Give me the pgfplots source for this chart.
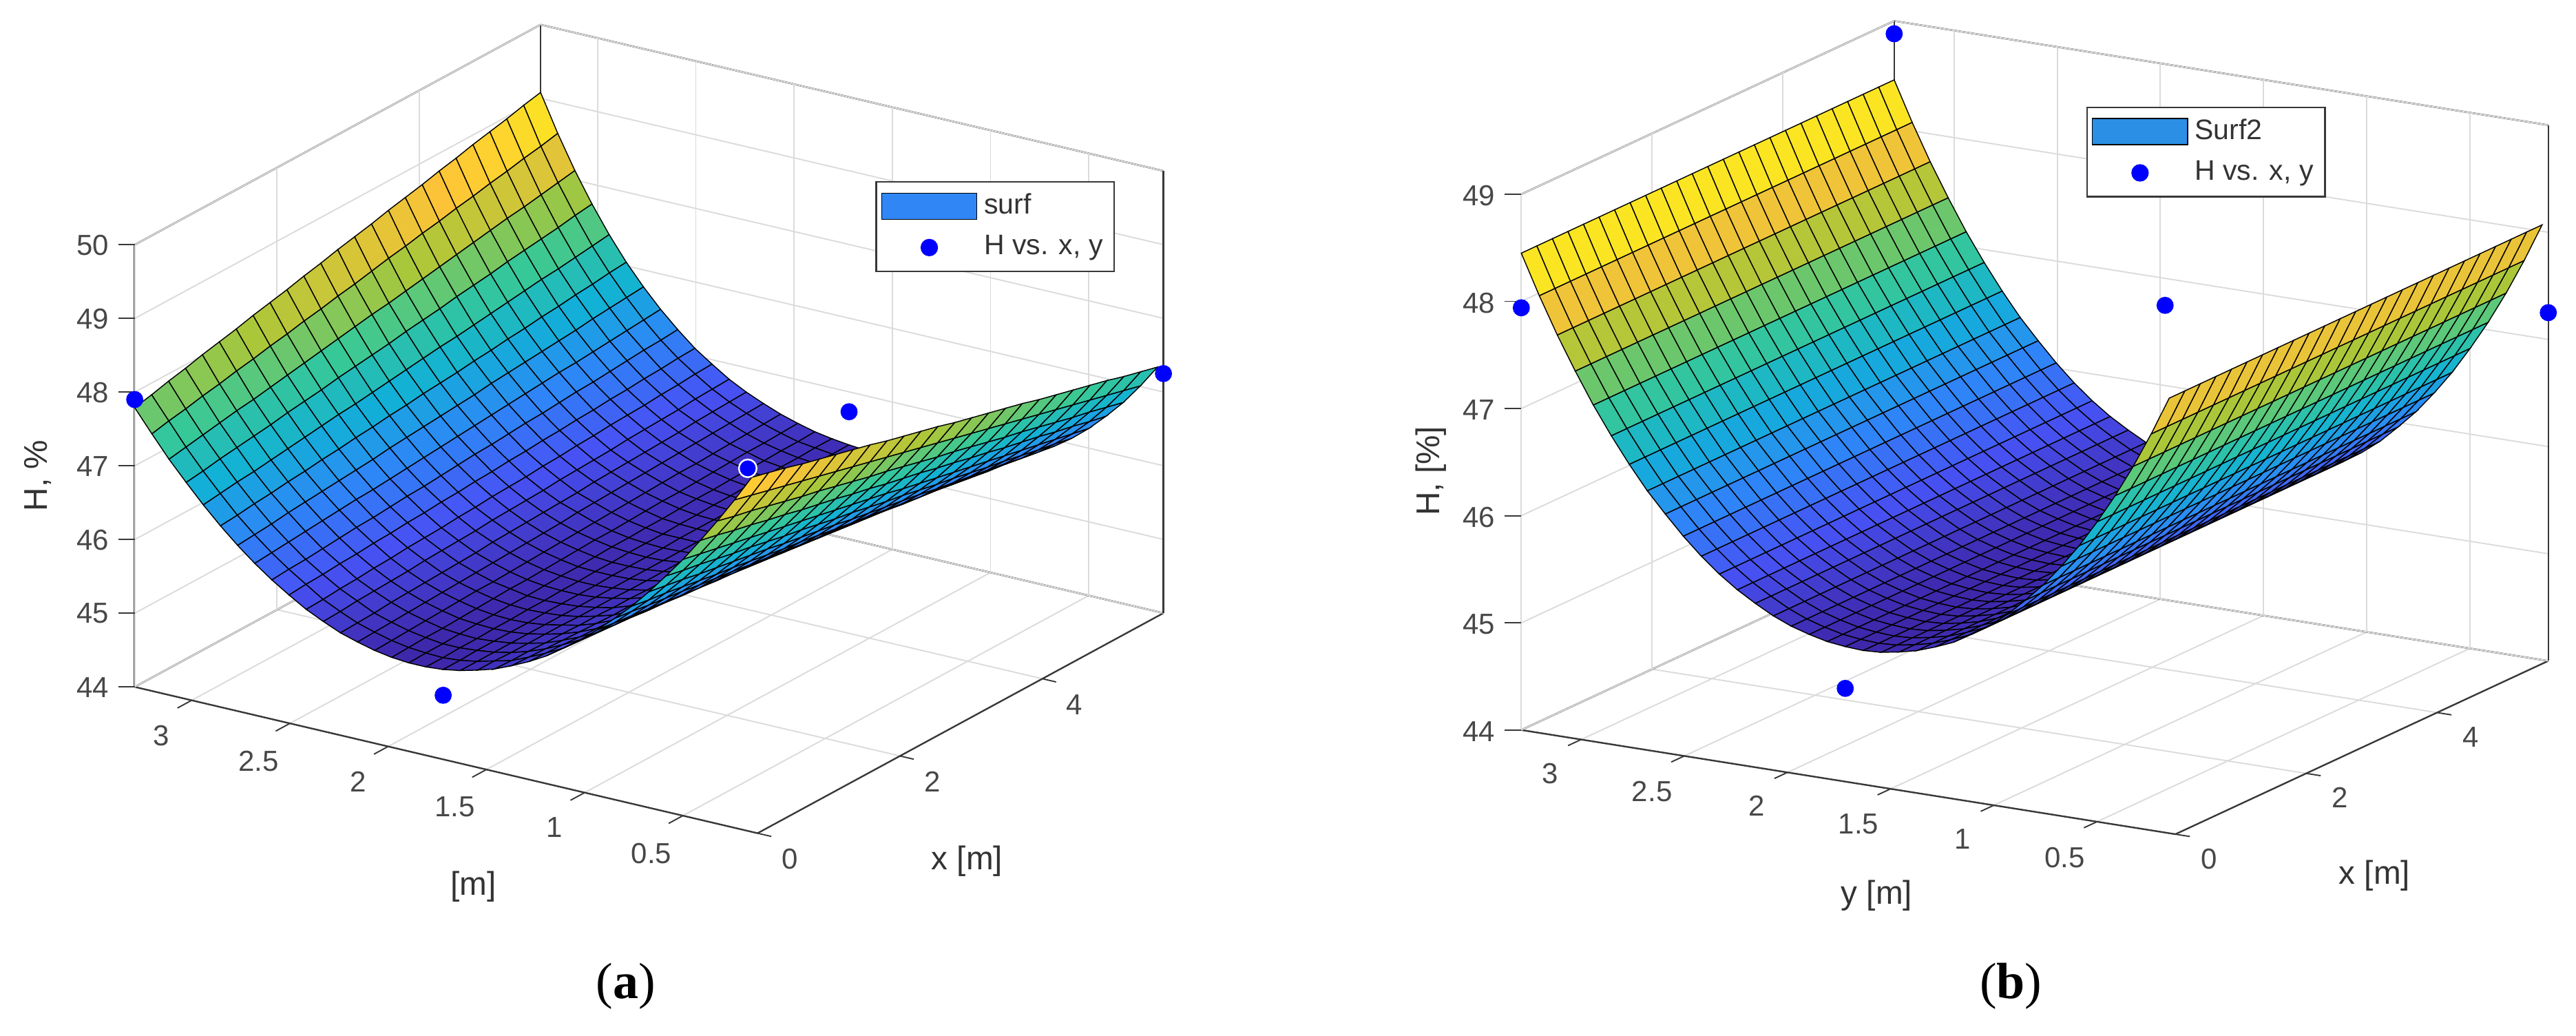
\documentclass[border=0pt]{standalone}
\usepackage{fontspec}
\setmainfont{Liberation Sans}
\newfontfamily\capfont{Liberation Serif}
\usepackage{pgfplots}
\pgfplotsset{compat=1.18}
\definecolor{axgray}{gray}{0.22}
\definecolor{swatcha}{RGB}{49,134,245}
\definecolor{swatchb}{RGB}{43,143,229}
\pgfplotsset{
  colormap={parula}{rgb=(0.2422,0.1504,0.6603) rgb=(0.2810,0.3228,0.9579) rgb=(0.1786,0.5289,0.9682) rgb=(0.0689,0.6948,0.8394) rgb=(0.2161,0.7843,0.5923) rgb=(0.6720,0.7793,0.2227) rgb=(0.9970,0.7659,0.2199) rgb=(0.9769,0.9839,0.0805)},
  matlab3d/.style={
    /pgf/number format/assume math mode=true,
    clip=false,
    xmin=0, xmax=5.7, ymin=0.12, ymax=3.29, zmin=44,
    xtick={0,2,4}, ytick={0.5,1,1.5,2,2.5,3},
    yticklabels={0.5,1,1.5,2,2.5,3},
    xtick pos=left, ytick pos=left, ztick pos=left, tick align=outside,
    grid=major, grid style={black!14, line width=0.4pt},
    axis line style={axgray, line width=0.5pt},
    tick style={draw=none},
    major tick length=4.5pt,
    tick label style={font=\fontsize{8.8}{10}\selectfont, text=black!72},
    yticklabel style={xshift=-1pt, yshift=-1.5pt},
    label style={font=\fontsize{10}{12}\selectfont, text=black!80},
    legend cell align=left,
    legend style={font=\fontsize{8.6}{10}\selectfont, draw=axgray, line width=0.5pt, text=black!80, inner sep=1.5pt, row sep=1pt},
  },
  surfstyle/.style={surf, shader=faceted, colormap name=parula, z buffer=sort, faceted color=black, line width=0.3pt, mesh/rows=37, mesh/cols=25},
  ptstyle/.style={only marks, mark=*, mark size=2.4pt, mark options={fill=blue, draw=blue}, color=blue,
    legend image code/.code={\fill[blue] (14.5pt,0pt) circle (2.4pt);}},
}
% tick marks only on the front floor edges and the left vertical, as MATLAB has them
\newcommand{\frontticks}[1]{%
  \pgfplotsinvokeforeach{0.5,1,1.5,2,2.5,3}{\draw[axgray, line width=0.4pt] (axis cs:0,##1,44) -- (axis cs:-0.2,##1,44);}
  \pgfplotsinvokeforeach{0,2,4}{\draw[axgray, line width=0.4pt] (axis cs:##1,0.12,44) -- (axis cs:##1,0.05,44);}
  \pgfplotsinvokeforeach{#1}{\draw[axgray, line width=0.4pt] (axis cs:0,3.29,##1) -- ++(-5pt,0pt);}
}
\begin{document}
\begin{tikzpicture}
\useasboundingbox (0,0) rectangle (784pt,315pt);
\begin{axis}[matlab3d, name=a, at={(41pt,61.5pt)}, anchor=south west,
  x={(21.67pt,11.75pt)}, y={(-59.8pt,14.04pt)}, z={(0pt,22.42pt)}, zmax=50,
  ztick={44,45,46,47,48,49,50},
  xlabel={x [m]}, ylabel={[m]}, zlabel={H, \%},
  x label style={xshift=-20.5pt, yshift=-13.5pt},
  y label style={xshift=27pt, yshift=-7pt},
  z label style={xshift=1pt, yshift=0pt},
  legend style={at={(0.72,0.694)}, anchor=south west},
]
\frontticks{44,45,46,47,48,49,50}
\addplot3[surfstyle,
  legend image code/.code={\draw[fill=swatcha, draw=black] (0pt,-4pt) rectangle (29pt,4pt);}]
  table[header=false, x expr={mod(\coordindex,25)*0.2375}, y expr={3.29-floor((\coordindex+0.5)/25)*0.087222}, z index=0] {
47.79
47.84
47.90
47.95
48.01
48.06
48.11
48.17
48.22
48.27
48.33
48.38
48.44
48.49
48.54
48.60
48.65
48.70
48.76
48.81
48.87
48.92
48.97
49.03
49.08
47.49
47.54
47.58
47.63
47.67
47.72
47.76
47.81
47.85
47.90
47.94
47.99
48.03
48.08
48.13
48.17
48.22
48.26
48.31
48.35
48.40
48.44
48.49
48.53
48.58
47.20
47.24
47.28
47.32
47.36
47.39
47.43
47.47
47.51
47.55
47.59
47.63
47.67
47.70
47.74
47.78
47.82
47.86
47.90
47.94
47.98
48.01
48.05
48.09
48.13
46.94
46.97
47.01
47.04
47.07
47.10
47.14
47.17
47.20
47.24
47.27
47.30
47.33
47.37
47.40
47.43
47.47
47.50
47.53
47.57
47.60
47.63
47.66
47.70
47.73
46.69
46.72
46.75
46.77
46.80
46.83
46.86
46.89
46.92
46.94
46.97
47.00
47.03
47.06
47.09
47.11
47.14
47.17
47.20
47.23
47.26
47.28
47.31
47.34
47.37
46.46
46.48
46.51
46.53
46.56
46.58
46.61
46.63
46.66
46.68
46.71
46.73
46.76
46.78
46.80
46.83
46.85
46.88
46.90
46.93
46.95
46.98
47.00
47.03
47.05
46.25
46.27
46.29
46.32
46.34
46.36
46.38
46.40
46.42
46.45
46.47
46.49
46.51
46.53
46.55
46.58
46.60
46.62
46.64
46.66
46.68
46.71
46.73
46.75
46.77
46.06
46.08
46.10
46.12
46.14
46.16
46.18
46.19
46.21
46.23
46.25
46.27
46.29
46.31
46.33
46.35
46.37
46.39
46.41
46.42
46.44
46.46
46.48
46.50
46.52
45.89
45.91
45.92
45.94
45.96
45.98
45.99
46.01
46.03
46.04
46.06
46.08
46.10
46.11
46.13
46.15
46.16
46.18
46.20
46.21
46.23
46.25
46.27
46.28
46.30
45.74
45.76
45.77
45.79
45.80
45.82
45.83
45.85
45.86
45.88
45.89
45.91
45.92
45.94
45.95
45.97
45.98
46.00
46.01
46.03
46.04
46.06
46.07
46.09
46.10
45.60
45.61
45.63
45.64
45.66
45.67
45.69
45.70
45.71
45.73
45.74
45.76
45.77
45.78
45.80
45.81
45.83
45.84
45.86
45.87
45.88
45.90
45.91
45.93
45.94
45.49
45.50
45.52
45.53
45.54
45.55
45.57
45.58
45.59
45.60
45.62
45.63
45.64
45.65
45.67
45.68
45.69
45.70
45.72
45.73
45.74
45.75
45.77
45.78
45.79
45.39
45.40
45.41
45.43
45.44
45.45
45.46
45.47
45.48
45.50
45.51
45.52
45.53
45.54
45.55
45.57
45.58
45.59
45.60
45.61
45.62
45.64
45.65
45.66
45.67
45.32
45.33
45.34
45.35
45.36
45.37
45.38
45.39
45.40
45.41
45.42
45.43
45.44
45.46
45.47
45.48
45.49
45.50
45.51
45.52
45.53
45.54
45.55
45.56
45.57
45.26
45.27
45.28
45.29
45.30
45.31
45.32
45.32
45.33
45.34
45.35
45.36
45.37
45.38
45.39
45.40
45.41
45.42
45.43
45.43
45.44
45.45
45.46
45.47
45.48
45.22
45.23
45.24
45.24
45.25
45.26
45.27
45.28
45.28
45.29
45.30
45.31
45.32
45.32
45.33
45.34
45.35
45.35
45.36
45.37
45.38
45.39
45.39
45.40
45.41
45.20
45.21
45.21
45.22
45.23
45.23
45.24
45.24
45.25
45.26
45.26
45.27
45.28
45.28
45.29
45.29
45.30
45.31
45.31
45.32
45.33
45.33
45.34
45.34
45.35
45.20
45.20
45.21
45.21
45.22
45.22
45.23
45.23
45.24
45.24
45.25
45.25
45.26
45.26
45.26
45.27
45.27
45.28
45.28
45.29
45.29
45.30
45.30
45.31
45.31
45.22
45.22
45.23
45.23
45.23
45.23
45.24
45.24
45.24
45.24
45.25
45.25
45.25
45.25
45.26
45.26
45.26
45.26
45.27
45.27
45.27
45.27
45.28
45.28
45.28
45.26
45.26
45.26
45.26
45.26
45.26
45.26
45.26
45.26
45.26
45.26
45.26
45.26
45.26
45.26
45.26
45.26
45.26
45.26
45.26
45.26
45.26
45.26
45.26
45.26
45.32
45.32
45.31
45.31
45.31
45.31
45.30
45.30
45.30
45.29
45.29
45.29
45.29
45.28
45.28
45.28
45.27
45.27
45.27
45.26
45.26
45.26
45.26
45.25
45.25
45.39
45.38
45.38
45.37
45.37
45.36
45.36
45.35
45.35
45.34
45.34
45.33
45.33
45.32
45.31
45.31
45.30
45.30
45.29
45.29
45.28
45.28
45.27
45.27
45.26
45.49
45.48
45.47
45.46
45.45
45.44
45.43
45.43
45.42
45.41
45.40
45.39
45.38
45.37
45.36
45.35
45.34
45.33
45.32
45.32
45.31
45.30
45.29
45.28
45.27
45.60
45.59
45.58
45.56
45.55
45.54
45.53
45.51
45.50
45.49
45.48
45.46
45.45
45.44
45.43
45.41
45.40
45.39
45.38
45.36
45.35
45.34
45.33
45.31
45.30
45.73
45.71
45.70
45.68
45.67
45.65
45.63
45.62
45.60
45.58
45.57
45.55
45.54
45.52
45.50
45.49
45.47
45.45
45.44
45.42
45.41
45.39
45.37
45.36
45.34
45.89
45.87
45.85
45.83
45.81
45.79
45.77
45.75
45.73
45.71
45.69
45.67
45.65
45.62
45.60
45.58
45.56
45.54
45.52
45.50
45.48
45.46
45.44
45.42
45.40
46.06
46.04
46.01
45.99
45.96
45.94
45.91
45.89
45.86
45.84
45.81
45.79
45.76
45.74
45.72
45.69
45.67
45.64
45.62
45.59
45.57
45.54
45.52
45.49
45.47
46.25
46.22
46.19
46.16
46.13
46.10
46.07
46.05
46.02
45.99
45.96
45.93
45.90
45.87
45.84
45.81
45.78
45.75
45.72
45.70
45.67
45.64
45.61
45.58
45.55
46.46
46.43
46.39
46.36
46.33
46.29
46.26
46.23
46.19
46.16
46.13
46.09
46.06
46.03
45.99
45.96
45.93
45.89
45.86
45.83
45.79
45.76
45.73
45.69
45.66
46.68
46.64
46.61
46.57
46.53
46.49
46.46
46.42
46.38
46.34
46.31
46.27
46.23
46.19
46.16
46.12
46.08
46.04
46.01
45.97
45.93
45.89
45.86
45.82
45.78
46.93
46.89
46.85
46.80
46.76
46.72
46.68
46.64
46.59
46.55
46.51
46.47
46.42
46.38
46.34
46.30
46.26
46.21
46.17
46.13
46.09
46.05
46.00
45.96
45.92
47.20
47.15
47.11
47.06
47.01
46.97
46.92
46.87
46.83
46.78
46.73
46.69
46.64
46.59
46.55
46.50
46.45
46.41
46.36
46.31
46.27
46.22
46.17
46.13
46.08
47.48
47.43
47.38
47.33
47.28
47.23
47.18
47.13
47.08
47.03
46.98
46.93
46.88
46.82
46.77
46.72
46.67
46.62
46.57
46.52
46.47
46.42
46.37
46.32
46.27
47.79
47.74
47.68
47.63
47.57
47.52
47.46
47.41
47.36
47.30
47.25
47.19
47.14
47.09
47.03
46.98
46.92
46.87
46.81
46.76
46.71
46.65
46.60
46.54
46.49
48.11
48.05
48.00
47.94
47.88
47.82
47.77
47.71
47.65
47.59
47.54
47.48
47.42
47.36
47.31
47.25
47.19
47.13
47.08
47.02
46.96
46.90
46.85
46.79
46.73
48.45
48.39
48.33
48.27
48.21
48.15
48.09
48.03
47.97
47.91
47.85
47.79
47.73
47.67
47.61
47.55
47.49
47.43
47.37
47.31
47.25
47.19
47.13
47.07
47.01
48.81
48.75
48.69
48.62
48.56
48.50
48.44
48.38
48.31
48.25
48.19
48.13
48.06
48.00
47.94
47.88
47.82
47.75
47.69
47.63
47.57
47.51
47.44
47.38
47.32
};
\addlegendentry{surf}
\addplot3[ptstyle] coordinates {(0,3.29,47.9) (0,1.72,44.87) (5.7,1.72,45.73) (5.7,0.12,47.25)};
\addlegendentry{H vs. x, y}
\addplot3[ptstyle, forget plot, mark options={fill=blue, draw=white, line width=0.5pt}, mark size=2.7pt] coordinates {(0,0.17,48.92)};
\end{axis}
\begin{axis}[matlab3d, name=b, at={(463pt,61.2pt)}, anchor=south west,
  x={(19.91pt,9.25pt)}, y={(-62.8pt,10pt)}, z={(0pt,32.6pt)}, zmax=49,
  ztick={44,45,46,47,48,49},
  xlabel={x [m]}, ylabel={y [m]}, zlabel={H, [\%]},
  x label style={xshift=-19.5pt, yshift=-11.5pt},
  y label style={xshift=28.5pt, yshift=-3.5pt},
  z label style={xshift=1.5pt, yshift=-2.5pt},
  legend style={at={(0.55,0.783)}, anchor=south west},
]
\frontticks{44,45,46,47,48,49}
\addplot3[surfstyle,
  legend image code/.code={\draw[fill=swatchb, draw=black] (0pt,-4pt) rectangle (29pt,4pt);}]
  table[header=false, x expr={mod(\coordindex,25)*0.2375}, y expr={3.29-floor((\coordindex+0.5)/25)*0.087222}, z index=0] {
48.45
48.45
48.45
48.45
48.45
48.45
48.45
48.45
48.45
48.45
48.45
48.45
48.45
48.45
48.45
48.45
48.45
48.45
48.45
48.45
48.45
48.45
48.45
48.45
48.45
48.08
48.08
48.08
48.08
48.08
48.08
48.08
48.08
48.08
48.08
48.08
48.08
48.08
48.08
48.08
48.08
48.08
48.08
48.08
48.08
48.08
48.08
48.08
48.08
48.08
47.74
47.74
47.74
47.74
47.74
47.74
47.74
47.74
47.74
47.74
47.74
47.74
47.74
47.74
47.74
47.74
47.74
47.74
47.74
47.74
47.74
47.74
47.74
47.74
47.74
47.43
47.43
47.43
47.43
47.43
47.43
47.43
47.43
47.43
47.43
47.43
47.43
47.43
47.43
47.43
47.43
47.43
47.43
47.43
47.43
47.43
47.43
47.43
47.43
47.43
47.14
47.14
47.14
47.14
47.14
47.14
47.14
47.14
47.14
47.14
47.14
47.14
47.14
47.14
47.14
47.14
47.14
47.14
47.14
47.14
47.14
47.14
47.14
47.14
47.14
46.88
46.88
46.88
46.88
46.88
46.88
46.88
46.88
46.88
46.88
46.88
46.88
46.88
46.88
46.88
46.88
46.88
46.88
46.88
46.88
46.88
46.88
46.88
46.88
46.88
46.64
46.64
46.64
46.64
46.64
46.64
46.64
46.64
46.64
46.64
46.64
46.64
46.64
46.64
46.64
46.64
46.64
46.64
46.64
46.64
46.64
46.64
46.64
46.64
46.64
46.42
46.42
46.42
46.42
46.42
46.42
46.42
46.42
46.42
46.42
46.42
46.42
46.42
46.42
46.42
46.42
46.42
46.42
46.42
46.42
46.42
46.42
46.42
46.42
46.42
46.23
46.23
46.23
46.23
46.23
46.23
46.23
46.23
46.23
46.23
46.23
46.23
46.23
46.23
46.23
46.23
46.23
46.23
46.23
46.23
46.23
46.23
46.23
46.23
46.23
46.05
46.05
46.05
46.05
46.05
46.05
46.05
46.05
46.05
46.05
46.05
46.05
46.05
46.05
46.05
46.05
46.05
46.05
46.05
46.05
46.05
46.05
46.05
46.05
46.05
45.89
45.89
45.89
45.89
45.89
45.89
45.89
45.89
45.89
45.89
45.89
45.89
45.89
45.89
45.89
45.89
45.89
45.89
45.89
45.89
45.89
45.89
45.89
45.89
45.89
45.75
45.75
45.75
45.75
45.75
45.75
45.75
45.75
45.75
45.75
45.75
45.75
45.75
45.75
45.75
45.75
45.75
45.75
45.75
45.75
45.75
45.75
45.75
45.75
45.75
45.63
45.63
45.63
45.63
45.63
45.63
45.63
45.63
45.63
45.63
45.63
45.63
45.63
45.63
45.63
45.63
45.63
45.63
45.63
45.63
45.63
45.63
45.63
45.63
45.63
45.53
45.53
45.53
45.53
45.53
45.53
45.53
45.53
45.53
45.53
45.53
45.53
45.53
45.53
45.53
45.53
45.53
45.53
45.53
45.53
45.53
45.53
45.53
45.53
45.53
45.44
45.44
45.44
45.44
45.44
45.44
45.44
45.44
45.44
45.44
45.44
45.44
45.44
45.44
45.44
45.44
45.44
45.44
45.44
45.44
45.44
45.44
45.44
45.44
45.44
45.37
45.37
45.37
45.37
45.37
45.37
45.37
45.37
45.37
45.37
45.37
45.37
45.37
45.37
45.37
45.37
45.37
45.37
45.37
45.37
45.37
45.37
45.37
45.37
45.37
45.32
45.32
45.32
45.32
45.32
45.32
45.32
45.32
45.32
45.32
45.32
45.32
45.32
45.32
45.32
45.32
45.32
45.32
45.32
45.32
45.32
45.32
45.32
45.32
45.32
45.28
45.28
45.28
45.28
45.28
45.28
45.28
45.28
45.28
45.28
45.28
45.28
45.28
45.28
45.28
45.28
45.28
45.28
45.28
45.28
45.28
45.28
45.28
45.28
45.28
45.26
45.26
45.26
45.26
45.26
45.26
45.26
45.26
45.26
45.26
45.26
45.26
45.26
45.26
45.26
45.26
45.26
45.26
45.26
45.26
45.26
45.26
45.26
45.26
45.26
45.25
45.25
45.25
45.25
45.25
45.25
45.25
45.25
45.25
45.25
45.25
45.25
45.25
45.25
45.25
45.25
45.25
45.25
45.25
45.25
45.25
45.25
45.25
45.25
45.25
45.26
45.26
45.26
45.26
45.26
45.26
45.26
45.26
45.26
45.26
45.26
45.26
45.26
45.26
45.26
45.26
45.26
45.26
45.26
45.26
45.26
45.26
45.26
45.26
45.26
45.29
45.29
45.29
45.29
45.29
45.29
45.29
45.29
45.29
45.29
45.29
45.29
45.29
45.29
45.29
45.29
45.29
45.29
45.29
45.29
45.29
45.29
45.29
45.29
45.29
45.33
45.33
45.33
45.33
45.33
45.33
45.33
45.33
45.33
45.33
45.33
45.33
45.33
45.33
45.33
45.33
45.33
45.33
45.33
45.33
45.33
45.33
45.33
45.33
45.33
45.39
45.39
45.39
45.39
45.39
45.39
45.39
45.39
45.39
45.39
45.39
45.39
45.39
45.39
45.39
45.39
45.39
45.39
45.39
45.39
45.39
45.39
45.39
45.39
45.39
45.46
45.46
45.46
45.46
45.46
45.46
45.46
45.46
45.46
45.46
45.46
45.46
45.46
45.46
45.46
45.46
45.46
45.46
45.46
45.46
45.46
45.46
45.46
45.46
45.46
45.56
45.56
45.56
45.56
45.56
45.56
45.56
45.56
45.56
45.56
45.56
45.56
45.56
45.56
45.56
45.56
45.56
45.56
45.56
45.56
45.56
45.56
45.56
45.56
45.56
45.67
45.67
45.67
45.67
45.67
45.67
45.67
45.67
45.67
45.67
45.67
45.67
45.67
45.67
45.67
45.67
45.67
45.67
45.67
45.67
45.67
45.67
45.67
45.67
45.67
45.80
45.80
45.80
45.80
45.80
45.80
45.80
45.80
45.80
45.80
45.80
45.80
45.80
45.80
45.80
45.80
45.80
45.80
45.80
45.80
45.80
45.80
45.80
45.80
45.80
45.96
45.96
45.96
45.96
45.96
45.96
45.96
45.96
45.96
45.96
45.96
45.96
45.96
45.96
45.96
45.96
45.96
45.96
45.96
45.96
45.96
45.96
45.96
45.96
45.96
46.13
46.13
46.13
46.13
46.13
46.13
46.13
46.13
46.13
46.13
46.13
46.13
46.13
46.13
46.13
46.13
46.13
46.13
46.13
46.13
46.13
46.13
46.13
46.13
46.13
46.33
46.33
46.33
46.33
46.33
46.33
46.33
46.33
46.33
46.33
46.33
46.33
46.33
46.33
46.33
46.33
46.33
46.33
46.33
46.33
46.33
46.33
46.33
46.33
46.33
46.55
46.55
46.55
46.55
46.55
46.55
46.55
46.55
46.55
46.55
46.55
46.55
46.55
46.55
46.55
46.55
46.55
46.55
46.55
46.55
46.55
46.55
46.55
46.55
46.55
46.80
46.80
46.80
46.80
46.80
46.80
46.80
46.80
46.80
46.80
46.80
46.80
46.80
46.80
46.80
46.80
46.80
46.80
46.80
46.80
46.80
46.80
46.80
46.80
46.80
47.07
47.07
47.07
47.07
47.07
47.07
47.07
47.07
47.07
47.07
47.07
47.07
47.07
47.07
47.07
47.07
47.07
47.07
47.07
47.07
47.07
47.07
47.07
47.07
47.07
47.37
47.37
47.37
47.37
47.37
47.37
47.37
47.37
47.37
47.37
47.37
47.37
47.37
47.37
47.37
47.37
47.37
47.37
47.37
47.37
47.37
47.37
47.37
47.37
47.37
47.70
47.70
47.70
47.70
47.70
47.70
47.70
47.70
47.70
47.70
47.70
47.70
47.70
47.70
47.70
47.70
47.70
47.70
47.70
47.70
47.70
47.70
47.70
47.70
47.70
48.06
48.06
48.06
48.06
48.06
48.06
48.06
48.06
48.06
48.06
48.06
48.06
48.06
48.06
48.06
48.06
48.06
48.06
48.06
48.06
48.06
48.06
48.06
48.06
48.06
};
\addlegendentry{Surf2}
\addplot3[ptstyle] coordinates {(0,3.29,47.94) (5.7,3.29,48.88) (0,0.17,48.92) (5.7,0.12,47.25) (0,1.72,44.87)};
\addlegendentry{H vs. x, y}
\end{axis}
\node[font=\capfont\fontsize{15.5}{18}\selectfont] at (190.5pt,15pt) {(\textbf{a})};
\node[font=\capfont\fontsize{15.5}{18}\selectfont] at (612pt,15pt) {(\textbf{b})};
\end{tikzpicture}
\end{document}
